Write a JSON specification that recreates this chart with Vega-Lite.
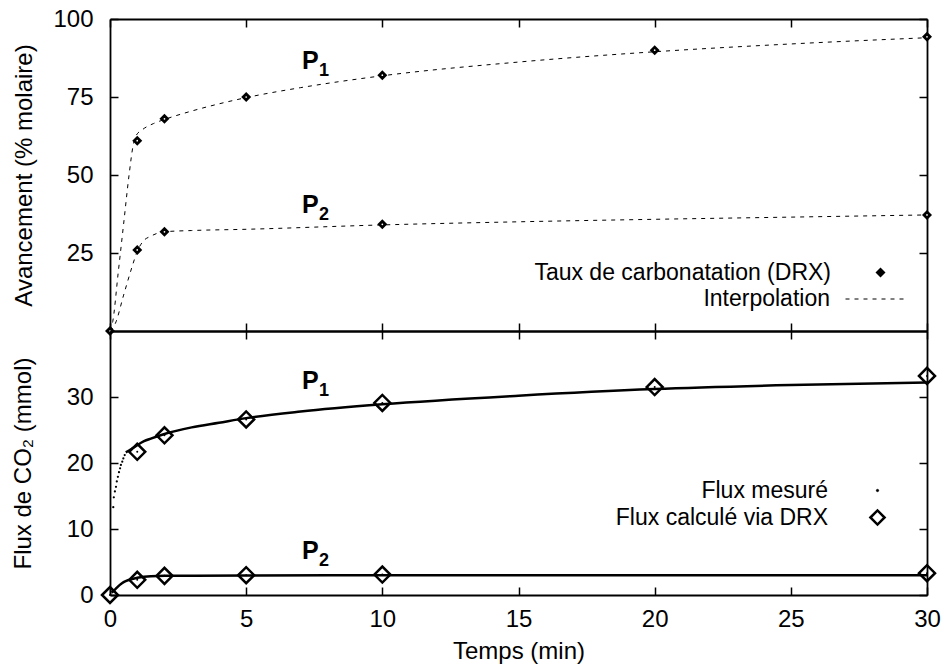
{
  "$schema": "https://vega.github.io/schema/vega-lite/v6.json",
  "padding": {"left": 11, "top": 7, "right": 10, "bottom": 5},
  "spacing": 0,
  "bounds": "flush",
  "config": {
    "font": "Liberation Sans",
    "view": {"stroke": null},
    "axis": {
      "domainColor": "black", "domainWidth": 1.8,
      "tickColor": "black", "tickWidth": 1.5, "tickSize": -8,
      "labelFont": "Liberation Sans", "labelFontSize": 24, "labelColor": "black",
      "titleFont": "Liberation Sans", "titleFontSize": 24, "titleFontWeight": "normal", "titleColor": "black",
      "grid": false, "labelFlush": false, "labelOverlap": false
    },
    "legend": {
      "labelFont": "Liberation Sans", "labelFontSize": 23, "labelColor": "black",
      "labelLimit": 600, "padding": 0, "offset": 0, "labelAlign": "right", "orient": "none"
    }
  },
  "resolve": {
    "scale": {"shape": "independent", "color": "independent", "strokeDash": "independent"},
    "legend": {"shape": "independent", "color": "independent", "strokeDash": "independent"}
  },
  "datasets": {
    "interp": [
      {"t": 0, "v": 0, "sample": "P1", "curve": "Interpolation"},
      {"t": 0.1, "v": 3, "sample": "P1", "curve": "Interpolation"},
      {"t": 0.3, "v": 18.6, "sample": "P1", "curve": "Interpolation"},
      {"t": 0.5, "v": 34.3, "sample": "P1", "curve": "Interpolation"},
      {"t": 0.7, "v": 50, "sample": "P1", "curve": "Interpolation"},
      {"t": 0.85, "v": 59.5, "sample": "P1", "curve": "Interpolation"},
      {"t": 0.95, "v": 62.5, "sample": "P1", "curve": "Interpolation"},
      {"t": 1.2, "v": 64.6, "sample": "P1", "curve": "Interpolation"},
      {"t": 1.6, "v": 66.5, "sample": "P1", "curve": "Interpolation"},
      {"t": 2, "v": 67.8, "sample": "P1", "curve": "Interpolation"},
      {"t": 3, "v": 70.5, "sample": "P1", "curve": "Interpolation"},
      {"t": 4, "v": 72.8, "sample": "P1", "curve": "Interpolation"},
      {"t": 5, "v": 74.8, "sample": "P1", "curve": "Interpolation"},
      {"t": 7, "v": 78, "sample": "P1", "curve": "Interpolation"},
      {"t": 10, "v": 81.8, "sample": "P1", "curve": "Interpolation"},
      {"t": 15, "v": 86.2, "sample": "P1", "curve": "Interpolation"},
      {"t": 20, "v": 89.5, "sample": "P1", "curve": "Interpolation"},
      {"t": 25, "v": 92, "sample": "P1", "curve": "Interpolation"},
      {"t": 30, "v": 94, "sample": "P1", "curve": "Interpolation"},
      {"t": 0, "v": 0, "sample": "P2", "curve": "Interpolation"},
      {"t": 0.2, "v": 2.5, "sample": "P2", "curve": "Interpolation"},
      {"t": 0.5, "v": 11.5, "sample": "P2", "curve": "Interpolation"},
      {"t": 0.8, "v": 20.3, "sample": "P2", "curve": "Interpolation"},
      {"t": 1, "v": 25.5, "sample": "P2", "curve": "Interpolation"},
      {"t": 1.2, "v": 28.6, "sample": "P2", "curve": "Interpolation"},
      {"t": 1.5, "v": 30.4, "sample": "P2", "curve": "Interpolation"},
      {"t": 1.7, "v": 31.2, "sample": "P2", "curve": "Interpolation"},
      {"t": 2, "v": 31.8, "sample": "P2", "curve": "Interpolation"},
      {"t": 3, "v": 32.2, "sample": "P2", "curve": "Interpolation"},
      {"t": 5, "v": 32.6, "sample": "P2", "curve": "Interpolation"},
      {"t": 10, "v": 34, "sample": "P2", "curve": "Interpolation"},
      {"t": 15, "v": 35, "sample": "P2", "curve": "Interpolation"},
      {"t": 20, "v": 35.8, "sample": "P2", "curve": "Interpolation"},
      {"t": 25, "v": 36.5, "sample": "P2", "curve": "Interpolation"},
      {"t": 30, "v": 37.2, "sample": "P2", "curve": "Interpolation"}
    ],
    "drx": [
      {"t": 0, "v": 0, "sample": "P1", "marker": "Taux de carbonatation (DRX)"},
      {"t": 1, "v": 61, "sample": "P1", "marker": "Taux de carbonatation (DRX)"},
      {"t": 2, "v": 68, "sample": "P1", "marker": "Taux de carbonatation (DRX)"},
      {"t": 5, "v": 75, "sample": "P1", "marker": "Taux de carbonatation (DRX)"},
      {"t": 10, "v": 82, "sample": "P1", "marker": "Taux de carbonatation (DRX)"},
      {"t": 20, "v": 90, "sample": "P1", "marker": "Taux de carbonatation (DRX)"},
      {"t": 30, "v": 94.3, "sample": "P1", "marker": "Taux de carbonatation (DRX)"},
      {"t": 1, "v": 26, "sample": "P2", "marker": "Taux de carbonatation (DRX)"},
      {"t": 2, "v": 31.8, "sample": "P2", "marker": "Taux de carbonatation (DRX)"},
      {"t": 10, "v": 34.2, "sample": "P2", "marker": "Taux de carbonatation (DRX)"},
      {"t": 30, "v": 37.2, "sample": "P2", "marker": "Taux de carbonatation (DRX)"}
    ],
    "annotTop": [
      {"t": 7.05, "v": 84, "main": "P", "sub": "1"},
      {"t": 7.05, "v": 37.8, "main": "P", "sub": "2"}
    ],
    "annotBottom": [
      {"t": 7.05, "v": 31.2, "main": "P", "sub": "1"},
      {"t": 7.05, "v": 5.4, "main": "P", "sub": "2"}
    ],
    "measured": [
      {"t": 0.58, "v": 21.6, "sample": "P1", "curve": "Flux mesuré"},
      {"t": 0.7, "v": 21.9, "sample": "P1", "curve": "Flux mesuré"},
      {"t": 0.85, "v": 22.3, "sample": "P1", "curve": "Flux mesuré"},
      {"t": 1, "v": 22.7, "sample": "P1", "curve": "Flux mesuré"},
      {"t": 1.25, "v": 23.3, "sample": "P1", "curve": "Flux mesuré"},
      {"t": 1.5, "v": 23.7, "sample": "P1", "curve": "Flux mesuré"},
      {"t": 2, "v": 24.4, "sample": "P1", "curve": "Flux mesuré"},
      {"t": 3, "v": 25.4, "sample": "P1", "curve": "Flux mesuré"},
      {"t": 4, "v": 26.1, "sample": "P1", "curve": "Flux mesuré"},
      {"t": 5, "v": 26.8, "sample": "P1", "curve": "Flux mesuré"},
      {"t": 7, "v": 27.8, "sample": "P1", "curve": "Flux mesuré"},
      {"t": 10, "v": 28.9, "sample": "P1", "curve": "Flux mesuré"},
      {"t": 15, "v": 30.2, "sample": "P1", "curve": "Flux mesuré"},
      {"t": 20, "v": 31.2, "sample": "P1", "curve": "Flux mesuré"},
      {"t": 25, "v": 31.8, "sample": "P1", "curve": "Flux mesuré"},
      {"t": 30, "v": 32.2, "sample": "P1", "curve": "Flux mesuré"},
      {"t": 0.06, "v": 0.35, "sample": "P2", "curve": "Flux mesuré"},
      {"t": 0.2, "v": 0.9, "sample": "P2", "curve": "Flux mesuré"},
      {"t": 0.35, "v": 1.5, "sample": "P2", "curve": "Flux mesuré"},
      {"t": 0.5, "v": 1.95, "sample": "P2", "curve": "Flux mesuré"},
      {"t": 0.7, "v": 2.3, "sample": "P2", "curve": "Flux mesuré"},
      {"t": 1, "v": 2.6, "sample": "P2", "curve": "Flux mesuré"},
      {"t": 1.5, "v": 2.85, "sample": "P2", "curve": "Flux mesuré"},
      {"t": 2, "v": 2.9, "sample": "P2", "curve": "Flux mesuré"},
      {"t": 5, "v": 2.95, "sample": "P2", "curve": "Flux mesuré"},
      {"t": 10, "v": 3.0, "sample": "P2", "curve": "Flux mesuré"},
      {"t": 20, "v": 3.0, "sample": "P2", "curve": "Flux mesuré"},
      {"t": 30, "v": 3.0, "sample": "P2", "curve": "Flux mesuré"}
    ],
    "measuredTail": [
      {"t": 0.12, "v": 13.3},
      {"t": 0.14, "v": 14.8},
      {"t": 0.18, "v": 15.7},
      {"t": 0.22, "v": 16.4},
      {"t": 0.25, "v": 17.2},
      {"t": 0.29, "v": 17.9},
      {"t": 0.33, "v": 18.6},
      {"t": 0.37, "v": 19.2},
      {"t": 0.4, "v": 19.7},
      {"t": 0.45, "v": 20.2},
      {"t": 0.49, "v": 20.7},
      {"t": 0.54, "v": 21.2}
    ],
    "drxFlux": [
      {"t": 1, "v": 21.7, "sample": "P1", "marker": "Flux calculé via DRX"},
      {"t": 2, "v": 24.2, "sample": "P1", "marker": "Flux calculé via DRX"},
      {"t": 5, "v": 26.6, "sample": "P1", "marker": "Flux calculé via DRX"},
      {"t": 10, "v": 29.1, "sample": "P1", "marker": "Flux calculé via DRX"},
      {"t": 20, "v": 31.5, "sample": "P1", "marker": "Flux calculé via DRX"},
      {"t": 30, "v": 33.2, "sample": "P1", "marker": "Flux calculé via DRX"},
      {"t": 0, "v": 0, "sample": "P2", "marker": "Flux calculé via DRX"},
      {"t": 1, "v": 2.3, "sample": "P2", "marker": "Flux calculé via DRX"},
      {"t": 2, "v": 2.9, "sample": "P2", "marker": "Flux calculé via DRX"},
      {"t": 5, "v": 3.0, "sample": "P2", "marker": "Flux calculé via DRX"},
      {"t": 10, "v": 3.1, "sample": "P2", "marker": "Flux calculé via DRX"},
      {"t": 30, "v": 3.3, "sample": "P2", "marker": "Flux calculé via DRX"}
    ]
  },
  "vconcat": [
    {
      "width": 817,
      "height": 312,
      "resolve": {"axis": {"x": "independent", "y": "independent"}},
      "layer": [
        {
          "data": {"name": "interp"},
          "mark": {"type": "line", "color": "black", "strokeWidth": 1, "strokeDash": [4, 5], "interpolate": "monotone"},
          "encoding": {
            "x": {"field": "t", "type": "quantitative", "scale": {"domain": [0, 30], "nice": false},
                  "axis": {"orient": "bottom", "labels": false, "title": null, "values": [0, 5, 10, 15, 20, 25, 30]}},
            "y": {"field": "v", "type": "quantitative", "scale": {"domain": [0, 100], "nice": false},
                  "axis": {"orient": "left", "values": [25, 50, 75, 100], "title": "Avancement (% molaire)", "labelPadding": 25, "titlePadding": 16}},
            "detail": {"field": "sample"},
            "strokeDash": {"field": "curve", "type": "nominal", "scale": {"range": [[4, 5]]},
                           "legend": {"title": null, "symbolType": "stroke", "symbolSize": 3969, "symbolStrokeWidth": 1, "symbolStrokeColor": "black", "symbolDash": [4, 5], "labelOffset": -79, "legendX": 735, "legendY": 248}}
          }
        },
        {
          "data": {"name": "drx"},
          "mark": {"type": "point", "filled": true, "color": "black", "size": 100, "opacity": 1},
          "encoding": {
            "x": {"field": "t", "type": "quantitative", "scale": {"domain": [0, 30], "nice": false},
                  "axis": {"orient": "top", "labels": false, "title": null, "values": [0, 5, 10, 15, 20, 25, 30]}},
            "y": {"field": "v", "type": "quantitative", "scale": {"domain": [0, 100], "nice": false},
                  "axis": {"orient": "right", "labels": false, "title": null, "values": [25, 50, 75, 100]}},
            "shape": {"field": "marker", "type": "nominal", "scale": {"range": ["diamond"]},
                      "legend": {"title": null, "symbolSize": 100, "symbolFillColor": "black", "symbolStrokeColor": "black", "labelOffset": -61, "legendX": 759, "legendY": 242}}
          }
        },
        {
          "data": {"name": "drx"},
          "mark": {"type": "circle", "color": "white", "size": 3, "opacity": 1},
          "encoding": {
            "x": {"field": "t", "type": "quantitative", "axis": null},
            "y": {"field": "v", "type": "quantitative", "axis": null}
          }
        },
        {
          "data": {"name": "annotTop"},
          "mark": {"type": "text", "align": "left", "baseline": "alphabetic", "fontSize": 25, "fontWeight": "bold", "color": "black"},
          "encoding": {
            "x": {"field": "t", "type": "quantitative", "axis": null},
            "y": {"field": "v", "type": "quantitative", "axis": null},
            "text": {"field": "main"}
          }
        },
        {
          "data": {"name": "annotTop"},
          "mark": {"type": "text", "align": "left", "baseline": "alphabetic", "fontSize": 18, "fontWeight": "bold", "color": "black", "dx": 17, "dy": 7},
          "encoding": {
            "x": {"field": "t", "type": "quantitative", "axis": null},
            "y": {"field": "v", "type": "quantitative", "axis": null},
            "text": {"field": "sub"}
          }
        }
      ]
    },
    {
      "width": 817,
      "height": 264,
      "resolve": {"axis": {"x": "independent", "y": "independent"}},
      "layer": [
        {
          "data": {"name": "measured"},
          "mark": {"type": "line", "strokeWidth": 2.5, "interpolate": "monotone"},
          "encoding": {
            "x": {"field": "t", "type": "quantitative", "scale": {"domain": [0, 30], "nice": false},
                  "axis": {"orient": "bottom", "title": "Temps (min)", "values": [0, 5, 10, 15, 20, 25, 30], "labelPadding": 20, "titlePadding": 8}},
            "y": {"field": "v", "type": "quantitative", "scale": {"domain": [0, 40], "nice": false},
                  "axis": {"orient": "left", "values": [0, 10, 20, 30], "title": "Flux de CO₂ (mmol)", "labelPadding": 25, "titlePadding": 31}},
            "detail": {"field": "sample"},
            "color": {"field": "curve", "type": "nominal", "scale": {"range": ["black"]},
                      "legend": {"title": null, "symbolType": "circle", "symbolSize": 5, "symbolFillColor": "black", "symbolStrokeColor": "black", "symbolStrokeWidth": 1, "labelOffset": -61, "legendX": 756, "legendY": 148}}
          }
        },
        {
          "data": {"name": "measuredTail"},
          "mark": {"type": "circle", "color": "black", "size": 5, "opacity": 1},
          "encoding": {
            "x": {"field": "t", "type": "quantitative", "axis": null},
            "y": {"field": "v", "type": "quantitative", "axis": null}
          }
        },
        {
          "data": {"name": "drxFlux"},
          "mark": {"type": "point", "filled": false, "color": "black", "strokeWidth": 2.5, "size": 256, "opacity": 1},
          "encoding": {
            "x": {"field": "t", "type": "quantitative", "scale": {"domain": [0, 30], "nice": false},
                  "axis": {"orient": "top", "labels": false, "title": null, "values": [0, 5, 10, 15, 20, 25, 30]}},
            "y": {"field": "v", "type": "quantitative", "scale": {"domain": [0, 40], "nice": false},
                  "axis": {"orient": "right", "labels": false, "title": null, "values": [0, 10, 20, 30]}},
            "shape": {"field": "marker", "type": "nominal", "scale": {"range": ["diamond"]},
                      "legend": {"title": null, "symbolSize": 200, "symbolStrokeWidth": 2.5, "symbolStrokeColor": "black", "symbolFillColor": "transparent", "labelOffset": -61, "legendX": 756, "legendY": 175}}
          }
        },
        {
          "data": {"name": "drxFlux"},
          "mark": {"type": "circle", "color": "black", "size": 4, "opacity": 1},
          "encoding": {
            "x": {"field": "t", "type": "quantitative", "axis": null},
            "y": {"field": "v", "type": "quantitative", "axis": null}
          }
        },
        {
          "data": {"name": "annotBottom"},
          "mark": {"type": "text", "align": "left", "baseline": "alphabetic", "fontSize": 25, "fontWeight": "bold", "color": "black"},
          "encoding": {
            "x": {"field": "t", "type": "quantitative", "axis": null},
            "y": {"field": "v", "type": "quantitative", "axis": null},
            "text": {"field": "main"}
          }
        },
        {
          "data": {"name": "annotBottom"},
          "mark": {"type": "text", "align": "left", "baseline": "alphabetic", "fontSize": 18, "fontWeight": "bold", "color": "black", "dx": 17, "dy": 7},
          "encoding": {
            "x": {"field": "t", "type": "quantitative", "axis": null},
            "y": {"field": "v", "type": "quantitative", "axis": null},
            "text": {"field": "sub"}
          }
        }
      ]
    }
  ]
}
